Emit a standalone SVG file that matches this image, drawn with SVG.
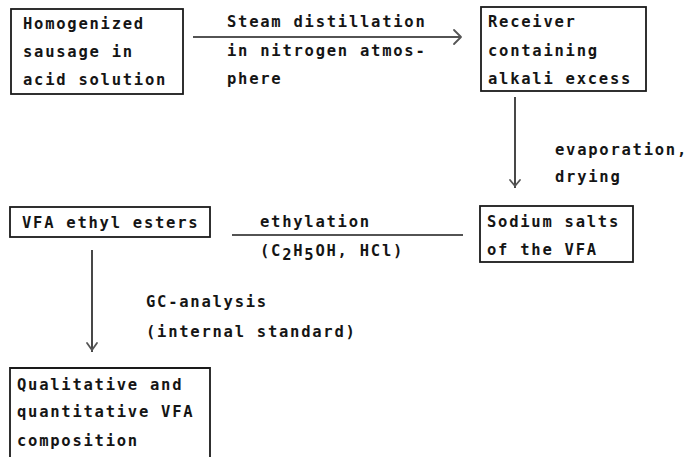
<svg xmlns="http://www.w3.org/2000/svg" width="697" height="457" viewBox="0 0 697 457">
  <style>
    .box { fill: none; stroke: #1a1a1a; stroke-width: 1.8; }
    .t { font-family: "DejaVu Sans Mono", "Liberation Mono", monospace; font-weight: bold; font-size: 15.5px; letter-spacing: 1.75px; fill: #151515; }
    .line { fill: none; stroke: #1a1a1a; stroke-width: 1.6; }
    .head { fill: none; stroke: #555555; stroke-width: 1.8; stroke-linecap: round; stroke-linejoin: round; }
  </style>
  <rect width="697" height="457" fill="#ffffff"/>

  <!-- process steps -->
  <g id="sausage">
    <rect class="box" x="11" y="9" width="172" height="85"/>
    <text class="t" x="23" y="29">Homogenized</text>
    <text class="t" x="23" y="57">sausage in</text>
    <text class="t" x="23" y="85">acid solution</text>
  </g>

  <g id="receiver">
    <rect class="box" x="481" y="7" width="165" height="84"/>
    <text class="t" x="488" y="27">Receiver</text>
    <text class="t" x="488" y="56">containing</text>
    <text class="t" x="488" y="84">alkali excess</text>
  </g>

  <g id="esters">
    <rect class="box" x="10" y="207" width="200" height="30"/>
    <text class="t" x="22" y="228">VFA ethyl esters</text>
  </g>

  <g id="salts">
    <rect class="box" x="480" y="206" width="153" height="56"/>
    <text class="t" x="487" y="227">Sodium salts</text>
    <text class="t" x="487" y="255">of the VFA</text>
  </g>

  <g id="composition">
    <path class="box" d="M10,457 V368 H210 V457"/>
    <text class="t" x="17" y="390">Qualitative and</text>
    <text class="t" x="17" y="417">quantitative VFA</text>
    <text class="t" x="17" y="446">composition</text>
  </g>

  <!-- connectors with their labels -->
  <g id="connectors">
    <g id="distillation">
      <line class="line" x1="193" y1="37" x2="461" y2="37"/>
      <polyline class="head" points="454,30 461,37 454,44"/>
      <text class="t" x="227" y="27">Steam distillation</text>
      <text class="t" x="227" y="56">in nitrogen atmos-</text>
      <text class="t" x="227" y="84">phere</text>
    </g>
    <g id="evaporation">
      <line class="line" x1="515" y1="97" x2="515" y2="188"/>
      <polyline class="head" points="510,180 515,186 520,180"/>
      <text class="t" x="555" y="155">evaporation,</text>
      <text class="t" x="555" y="182">drying</text>
    </g>
    <g id="ethylation">
      <line class="line" x1="232" y1="235" x2="463" y2="235"/>
      <text class="t" x="260" y="227">ethylation</text>
      <text class="t" x="260" y="256">(C<tspan dy="4">2</tspan><tspan dy="-4">H</tspan><tspan dy="4">5</tspan><tspan dy="-4">OH, HCl)</tspan></text>
    </g>
    <g id="gc-analysis">
      <line class="line" x1="92" y1="250" x2="92" y2="352"/>
      <polyline class="head" points="87,343 92,350 97,343"/>
      <text class="t" x="146" y="307">GC-analysis</text>
      <text class="t" x="146" y="337">(internal standard)</text>
    </g>
  </g>
</svg>
